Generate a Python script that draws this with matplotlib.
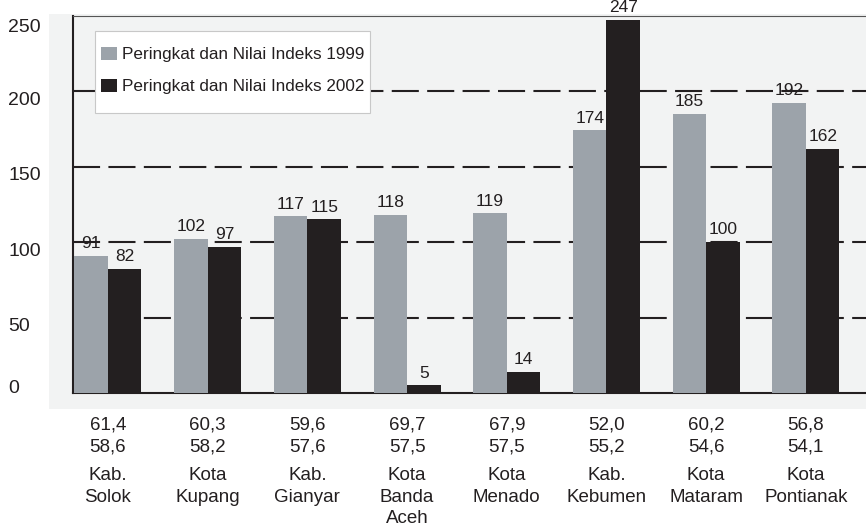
import matplotlib
matplotlib.use("Agg")
import matplotlib.pyplot as plt
from matplotlib.patches import Rectangle
from matplotlib.transforms import blended_transform_factory, offset_copy
import numpy as np

# ---- data ----
categories = ["Kab.\nSolok", "Kota\nKupang", "Kab.\nGianyar", "Kota\nBanda\nAceh",
              "Kota\nMenado", "Kab.\nKebumen", "Kota\nMataram", "Kota\nPontianak"]
rank_1999 = [91, 102, 117, 118, 119, 174, 185, 192]
rank_2002 = [82, 97, 115, 5, 14, 247, 100, 162]
index_1999 = [61.4, 60.3, 59.6, 69.7, 67.9, 52.0, 60.2, 56.8]
index_2002 = [58.6, 58.2, 57.6, 57.5, 57.5, 55.2, 54.6, 54.1]
series_names = ["Peringkat dan Nilai Indeks 1999", "Peringkat dan Nilai Indeks 2002"]
yticks = [0, 50, 100, 150, 200, 250]

# ---- style ----
GRAY = "#9ca3aa"
BLACK = "#231f20"
PANEL = "#f2f3f3"
FONT = "Liberation Sans"

W, H = 866, 530
fig = plt.figure(figsize=(W / 100, H / 100), dpi=100)


def fx(px):
    return px / W


def fy(py):
    return 1 - py / H


fig.patches.append(Rectangle((fx(49), fy(409)), fx(W) - fx(49), fy(14) - fy(409),
                             transform=fig.transFigure, facecolor=PANEL,
                             edgecolor="none", zorder=-5))
ax = fig.add_axes([fx(72.5), fy(393), 1 - fx(72.5), fy(15.7) - fy(393)])
ax.set_zorder(2)
ax.set_facecolor(PANEL)

x = np.arange(len(categories))
bw = 0.336
b1 = ax.bar(x - bw / 2, rank_1999, bw, color=GRAY, zorder=3)
b2 = ax.bar(x + bw / 2, rank_2002, bw, color=BLACK, zorder=3)
for bars in (b1, b2):
    ax.bar_label(bars, padding=3.5, fontsize=12.5, family=FONT, color=BLACK, zorder=4)

ax.set_xlim(-0.356, 7.603)
ax.set_ylim(0, 250)

for yv in yticks[1:-1]:
    ax.axhline(yv, color=BLACK, lw=1.5, dashes=(13, 4), zorder=1)

ax.spines["right"].set_visible(False)
ax.spines["top"].set_color("#555555")
ax.spines["top"].set_linewidth(0.8)
for s in ("left", "bottom"):
    ax.spines[s].set_color(BLACK)
    ax.spines[s].set_linewidth(1.5)
ax.set_xticks([])
ax.set_yticks([])

# y tick labels (left aligned near the figure edge)
ylab_off = {0: -5.5, 50: 7.5, 100: 8.5, 150: 8, 200: 8, 250: 11}
ytr = blended_transform_factory(fig.transFigure, ax.transData)
for yv in yticks:
    tr = offset_copy(ytr, fig=fig, x=0, y=-ylab_off[yv] - 1, units="dots")
    ax.text(fx(8), yv, str(yv), transform=tr, ha="left", va="center",
            fontsize=14, family=FONT, color=BLACK, clip_on=False)

# x labels: index values and names
xtr = blended_transform_factory(ax.transData, ax.transAxes)


def fmt(v):
    return f"{v:.1f}".replace(".", ",")


for i in range(len(categories)):
    lines = [(fmt(index_1999[i]), 31.5), (fmt(index_2002[i]), 53)]
    for k, ln in enumerate(categories[i].split("\n")):
        lines.append((ln, 81.5 + 21.5 * k))
    for txt, dy in lines:
        tr = offset_copy(xtr, fig=fig, x=0, y=-dy - 1, units="dots")
        ax.text(x[i], 0, txt, transform=tr, ha="center", va="center",
                fontsize=13.5, family=FONT, color=BLACK, clip_on=False)

# legend (drawn as a framed box with two square keys)
fig.add_artist(Rectangle((fx(94.5), fy(112.5)), fx(369.5) - fx(94.5), fy(30.5) - fy(112.5),
                         transform=fig.transFigure, facecolor="white",
                         edgecolor="#c8c8c8", lw=0.8, zorder=10))
key_rows = [(47, 60, 53.5), (78.5, 92, 85)]
for (top, bot, cy), col, name in zip(key_rows, (GRAY, BLACK), series_names):
    fig.add_artist(Rectangle((fx(101), fy(bot)), fx(117) - fx(101), fy(top) - fy(bot),
                             transform=fig.transFigure, facecolor=col,
                             edgecolor="none", zorder=11))
    fig.text(fx(121.5), fy(cy + 1), name, ha="left", va="center", fontsize=12.3,
             family=FONT, color=BLACK, zorder=12)

fig.savefig("out.png", dpi=100)
